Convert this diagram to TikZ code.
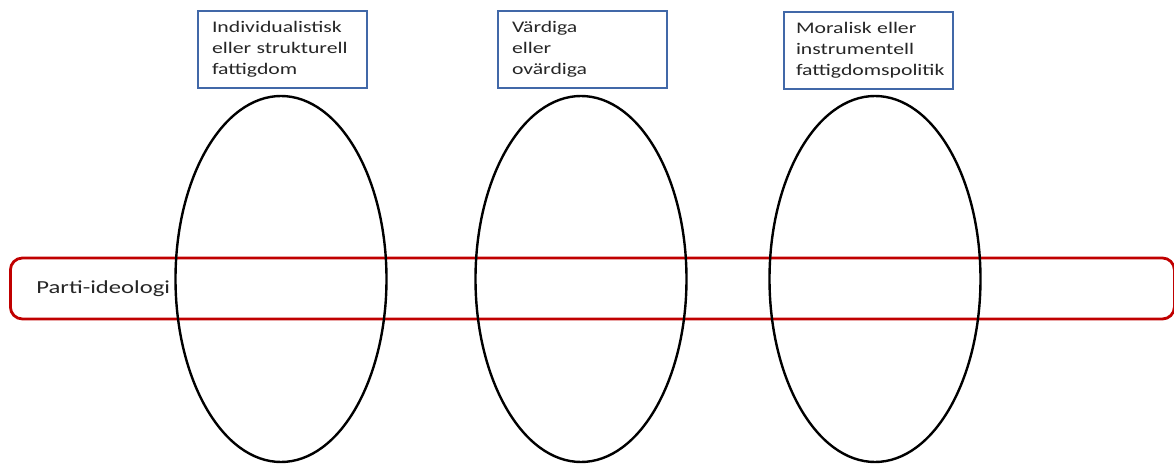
\documentclass[tikz,border=0pt]{standalone}
\usepackage{fontspec}
\setmainfont{Carlito}[FakeStretch=1.34]
\usetikzlibrary{shapes.geometric}
\definecolor{boxblue}{HTML}{4168A8}
\definecolor{bandred}{HTML}{C00000}
\begin{document}
\begin{tikzpicture}[
  x = 0.5pt, y = -0.5pt,
  every node/.style = {font=\fontsize{8.1}{10.5}\selectfont, text=black!85},
  dim/.style = {draw=boxblue, line width=1pt, anchor=north west, align=left,
    minimum height=38.5pt, inner xsep=7pt, text width=70.5pt},
  oval/.style = {draw, ellipse, line width=1.2pt, minimum width=105.5pt, minimum height=183pt},
  band/.style = {draw=bandred, line width=1.4pt, rounded corners=6pt, anchor=west, align=left,
    minimum height=30.5pt, inner xsep=13pt, text width=556pt, font=\fontsize{9.2}{11}\selectfont}
  ]
  \useasboundingbox (0,0) rectangle (1174,464);
  \node[band] (ideologi) at (9,288.5) {Parti-ideologi};
  \node[oval] (oval1) at (281,279) {};
  \node[oval] (oval2) at (581,279) {};
  \node[oval] (oval3) at (875,279) {};
  \node[dim] (dim1) at (197,10) {Individualistisk\\eller strukturell\\fattigdom};
  \node[dim] (dim2) at (497,10) {Värdiga\\eller\\ovärdiga};
  \node[dim, inner xsep=6pt, text width=72.5pt] (dim3) at (783,11) {Moralisk eller\\instrumentell\\fattigdomspolitik};
\end{tikzpicture}
\end{document}
